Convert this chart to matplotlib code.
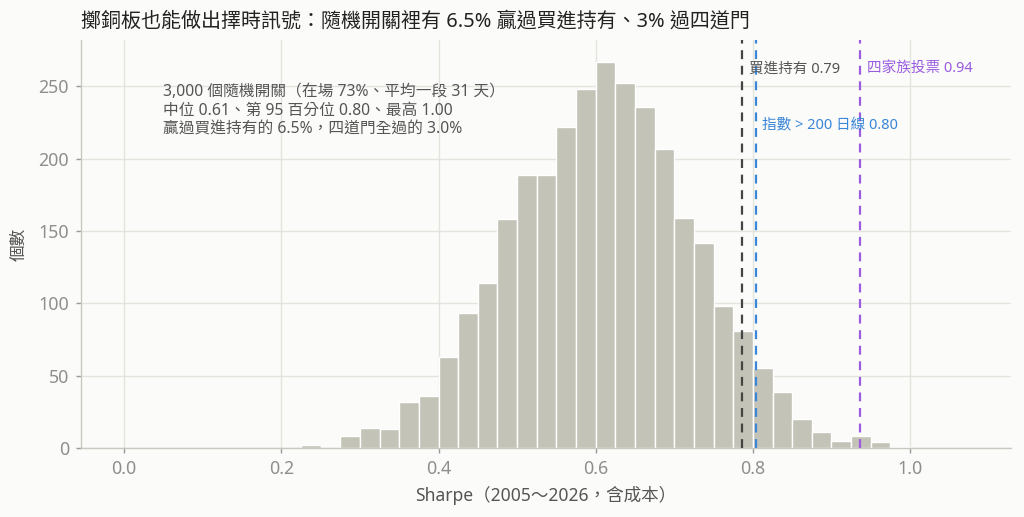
import matplotlib
matplotlib.use('Agg')
import matplotlib.pyplot as plt
import numpy as np

# histogram of 3,000 random on/off strategies, bin width 0.025
bin_edges = np.round(np.arange(0.225, 1.0001, 0.025), 3)
counts = [2, 0, 8, 14, 13, 32, 36, 63, 93, 114,
          158, 189, 189, 222, 248, 267, 252, 236, 207, 159,
          142, 98, 81, 55, 39, 20, 11, 5, 8, 4, 1]

ref_names = ['買進持有', '指數 > 200 日線', '四家族投票']
ref_values = [0.786, 0.804, 0.936]
ref_labels = ['0.79', '0.80', '0.94']
ref_colors = ['#444444', '#3a86d8', '#9b5ce0']

note = ('3,000 個隨機開關（在場 73%、平均一段 31 天）\n'
        '中位 0.61、第 95 百分位 0.80、最高 1.00\n'
        '贏過買進持有的 6.5%，四道門全過的 3.0%')

plt.rcParams.update({
    'font.family': ['Noto Sans', 'Noto Sans CJK TC', 'DejaVu Sans'],
    'axes.unicode_minus': False,
})

bg = '#fbfbf9'
fig = plt.figure(figsize=(10.24, 5.17), dpi=100, facecolor=bg)
ax = fig.add_axes([0.079, 0.1335, 0.908, 0.789], facecolor=bg)

ax.bar(bin_edges[:-1], counts, width=0.025, align='edge',
       color='#c3c3b7', edgecolor='white', linewidth=1.0, zorder=2)

for v, c in zip(ref_values, ref_colors):
    ax.axvline(v, color=c, linestyle=(0, (4, 3)), linewidth=1.6, zorder=3)

ax.text(0.795, 262, ref_names[0] + ' ' + ref_labels[0], color='#555555',
        fontsize=10.5, va='center', ha='left')
ax.text(0.812, 222.5, ref_names[1] + ' ' + ref_labels[1], color=ref_colors[1],
        fontsize=10.5, va='center', ha='left')
ax.text(0.945, 262, ref_names[2] + ' ' + ref_labels[2], color=ref_colors[2],
        fontsize=10.5, va='center', ha='left')

ax.text(0.05, 251.5, note, color='#555555', fontsize=11.3, va='top', ha='left',
        linespacing=1.18)

ax.set_xlim(-0.055, 1.128)
ax.set_ylim(0, 282)
ax.set_xticks([0.0, 0.2, 0.4, 0.6, 0.8, 1.0])
ax.set_yticks([0, 50, 100, 150, 200, 250])
ax.grid(True, color='#e4e4df', linewidth=1.0, zorder=0)
ax.set_axisbelow(True)

for s in ['top', 'right']:
    ax.spines[s].set_visible(False)
for s in ['left', 'bottom']:
    ax.spines[s].set_color('#c8c8c0')
    ax.spines[s].set_linewidth(1.0)
ax.tick_params(colors='#8e8e8e', labelsize=12.8, length=3.5, width=1, pad=5)
ax.tick_params(axis='both', color='#999999')

ax.set_xlabel('Sharpe（2005～2026，含成本）', fontsize=12.6, color='#555555', labelpad=6)
ax.set_ylabel('個數', fontsize=12, color='#555555', labelpad=8)
ax.set_title('擲銅板也能做出擇時訊號：隨機開關裡有 6.5% 贏過買進持有、3% 過四道門',
             loc='left', fontsize=14.4, color='#222222', pad=10)

fig.savefig('out.png', dpi=100, facecolor=bg)
